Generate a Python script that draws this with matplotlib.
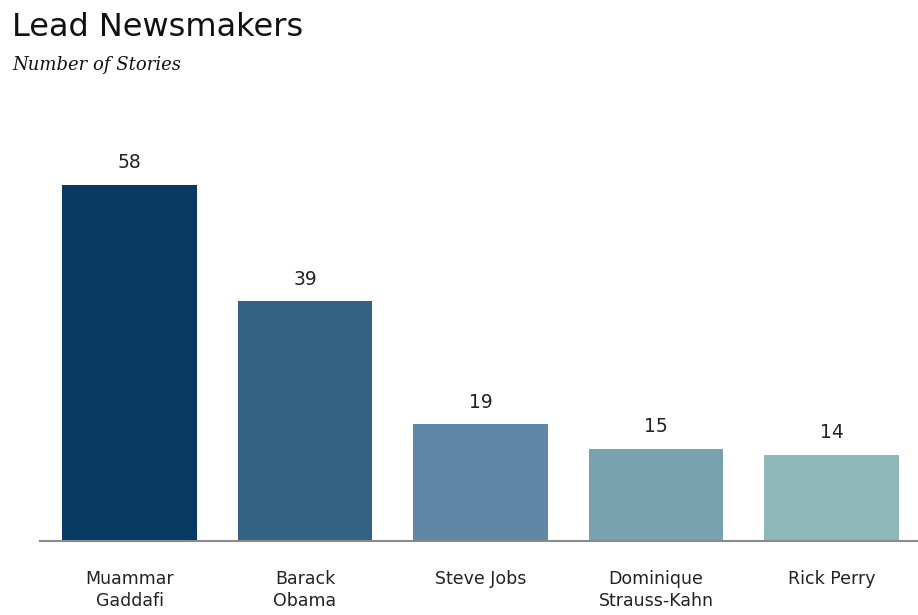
import matplotlib.pyplot as plt

names = ['Muammar\nGaddafi', 'Barack\nObama', 'Steve Jobs',
         'Dominique\nStrauss-Kahn', 'Rick Perry']
stories = [58, 39, 19, 15, 14]
colors = ['#073a62', '#336285', '#6087a6', '#79a2af', '#8fb8b9']

fig = plt.figure(figsize=(9.18, 6.15), dpi=100)
ax = fig.add_axes([40 / 918, 1 - 541 / 615, 878 / 918, 430 / 615])

x = range(len(stories))
bars = ax.bar(x, stories, width=0.769, color=colors)
for b, v in zip(bars, stories):
    ax.annotate(str(v), (b.get_x() + b.get_width() / 2, v),
                xytext=(0, 9), textcoords='offset points',
                ha='center', va='bottom', fontsize=13.5, color='#222222')

ax.set_xlim(-0.51, 4.493)
ax.set_ylim(0, 70)
ax.set_xticks(list(x))
ax.set_xticklabels(names, fontsize=12.5, color='#222222', linespacing=1.3)
ax.tick_params(axis='x', length=0, pad=21)
ax.set_yticks([])
for s in ['top', 'right', 'left']:
    ax.spines[s].set_visible(False)
ax.spines['bottom'].set_color('#8a8a8a')
ax.spines['bottom'].set_linewidth(1.5)

fig.text(12 / 918, 1 - 28 / 615, 'Lead Newsmakers', fontsize=23,
         va='center', ha='left', color='#111111')
fig.text(12 / 918, 1 - 65 / 615, 'Number of Stories', fontsize=13,
         family='DejaVu Serif', style='italic', va='center', ha='left',
         color='#111111')

fig.savefig('out.png', dpi=100)
